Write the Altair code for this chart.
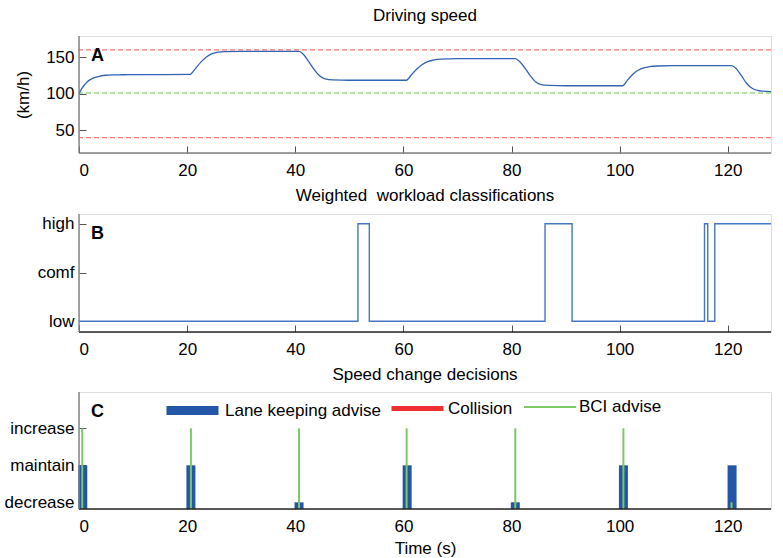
import altair as alt
import pandas as pd

FONT = "Liberation Sans"

# ---------------- data ----------------
X_TICKS = [0, 20, 40, 60, 80, 100, 120]

# Panel A: driving speed (km/h)
SPEED_T = [0, 0.5, 1, 1.5, 2, 3, 4, 5, 6, 8, 12, 20.6,
           20.7, 21.5, 22.5, 23.5, 24.5, 25.5, 27, 30, 40.6,
           40.7, 41.5, 42.5, 43.5, 44.5, 45.5, 47, 50, 60.6,
           60.7, 61.5, 62.5, 63.5, 64.5, 65.5, 67, 70, 80.6,
           80.7, 81.5, 82.5, 83.5, 84.5, 85.5, 87, 90, 100.6,
           100.7, 101.5, 102.5, 103.5, 104.5, 105.5, 107, 110, 120.6,
           120.7, 121.5, 122.5, 123.5, 124.5, 125.5, 126.5, 128]
SPEED_V = [100, 107, 112, 116, 119, 122.5, 124.3, 125.3, 125.8, 126, 126.2, 126.5,
           127, 134, 143, 150, 154.5, 156.5, 157.5, 158, 158,
           158, 154, 144, 133, 124.5, 120.5, 119, 118.5, 118.5,
           119, 126, 134, 140, 144, 146, 147.5, 148, 148,
           148, 144, 135, 124.5, 116, 112.5, 111.5, 111, 111,
           111.5, 119, 127, 132.5, 135.5, 137, 138, 138.5, 138.5,
           138.5, 135, 125, 114, 107.5, 104.5, 103.5, 103]
SPEED_RED_LIMITS = [160, 40]
SPEED_GREEN_LEVEL = [101]
SPEED_TICKS = [50, 100, 150]

# Panel B: weighted workload classification (0 low, 1 comf, 2 high)
WL_T = [0, 51.6, 53.7, 86.2, 91.2, 115.7, 116.3, 117.6, 128]
WL_V = [0, 2, 0, 2, 0, 2, 0, 2, 2]
WL_NAMES = ["low", "comf", "high"]

# Panel C: speed change decisions (1 decrease, 2 maintain, 3 increase)
DEC_NAMES = ["decrease", "maintain", "increase"]
LK_T = [0.7, 20.7, 40.7, 60.7, 80.7, 100.7, 120.8]
LK_V = [2, 2, 1, 2, 1, 2, 2]
BCI_T = [0.6, 20.7, 40.7, 60.6, 80.7, 100.7, 120.7]
BCI_V = [3, 3, 3, 3, 3, 3, 1]
COLL_T = []
COLL_V = []
SERIES = ["Lane keeping advise", "Collision", "BCI advise"]
SERIES_COLORS = ["#2356a6", "#ee3030", "#7cc864"]
SERIES_WIDTHS = [9, 5, 2]

# ---------------- layout constants ----------------
W = 692
X_DOMAIN = [0, 128]
A_DOMAIN = [19, 179]
B_DOMAIN = [-0.22, 2.2]
C_DOMAIN = [0.82, 3.98]
AX_GRAY = "#808080"
AX_DARK = "#262626"
FS = 17


def xscale():
    return alt.Scale(domain=X_DOMAIN, nice=False, zero=False)


def x_axis(title=None):
    return alt.Axis(values=X_TICKS, offset=-7, tickSize=7, tickColor="#555555", tickWidth=1,
                    domain=False, grid=False, labelPadding=9, labelFontSize=FS, labelFont=FONT,
                    labelColor="black", title=title, titleFontSize=FS, titleFont=FONT,
                    titleFontWeight="normal", titleColor="black", titlePadding=6)


def y_axis(values, title=None, label_expr=None):
    kw = dict(values=values, offset=-7, tickSize=7, tickColor="#555555", tickWidth=1,
              domain=False, grid=False, labelPadding=5, labelFontSize=FS, labelFont=FONT,
              labelColor="black", title=title, titleFontSize=FS, titleFont=FONT,
              titleFontWeight="normal", titleColor="black", titlePadding=13)
    if label_expr:
        kw["labelExpr"] = label_expr
    return alt.Axis(**kw)


def frame_lines(ydom, bottom_color):
    d = pd.DataFrame({"z": [0]})
    bottom = alt.Chart(d).mark_rule(color=bottom_color, strokeWidth=1.4).encode(
        y=alt.Y(datum=ydom[0], scale=alt.Scale(domain=ydom, nice=False, zero=False)))
    left = alt.Chart(d).mark_rule(color=AX_GRAY, strokeWidth=1.4).encode(
        x=alt.X(datum=X_DOMAIN[0], scale=xscale()))
    return [bottom, left]


def panel_letter(letter):
    d = pd.DataFrame({"lbl": [letter]})
    return alt.Chart(d).mark_text(fontWeight="bold", fontSize=18, font=FONT, align="left",
                                  baseline="alphabetic", color="black").encode(
        x=alt.value(12), y=alt.value(25), text="lbl:N")


def title(text, offset=10):
    return alt.TitleParams(text, fontSize=FS, fontWeight="normal", font=FONT, frame="group",
                           anchor="middle", color="black", offset=offset)


# ---------------- panel A ----------------
speed_df = pd.DataFrame({"t": SPEED_T, "v": SPEED_V})
ascale = alt.Scale(domain=A_DOMAIN, nice=False, zero=False)
red_rules = alt.Chart(pd.DataFrame({"v": SPEED_RED_LIMITS})).mark_rule(
    color="#ff7070", strokeDash=[5, 3], strokeWidth=1.3).encode(y=alt.Y("v:Q", scale=ascale))
green_rule = alt.Chart(pd.DataFrame({"v": SPEED_GREEN_LEVEL})).mark_rule(
    color="#9ad88a", strokeDash=[5, 3], strokeWidth=1.5).encode(y=alt.Y("v:Q", scale=ascale))
speed_line = alt.Chart(speed_df).mark_line(interpolate="monotone", color="#3263b4",
                                            strokeWidth=1.3).encode(
    x=alt.X("t:Q", scale=xscale(), axis=x_axis()),
    y=alt.Y("v:Q", scale=ascale, axis=y_axis(SPEED_TICKS, title="(km/h)")))
panelA = alt.layer(red_rules, green_rule, speed_line, *frame_lines(A_DOMAIN, AX_GRAY),
                   panel_letter("A")).properties(width=W, height=117, title=title("Driving speed"))

# ---------------- panel B ----------------
wl_df = pd.DataFrame({"t": WL_T, "v": WL_V})
bscale = alt.Scale(domain=B_DOMAIN, nice=False, zero=False)
wl_expr = "[" + ",".join("'%s'" % n for n in WL_NAMES) + "][datum.value]"
wl_line = alt.Chart(wl_df).mark_line(interpolate="step-after", color="#4676c4",
                                     strokeWidth=1.4).encode(
    x=alt.X("t:Q", scale=xscale(), axis=x_axis()),
    y=alt.Y("v:Q", scale=bscale, axis=y_axis([0, 1, 2], label_expr=wl_expr)))
panelB = alt.layer(wl_line, *frame_lines(B_DOMAIN, AX_DARK), panel_letter("B")).properties(
    width=W, height=118, title=title("Weighted\u00a0 workload classifications", offset=8))

# ---------------- panel C ----------------
cscale = alt.Scale(domain=C_DOMAIN, nice=False, zero=False)
dec_expr = "[" + ",".join("'%s'" % n for n in DEC_NAMES) + "][datum.value - 1]"
C_XAXIS = x_axis(title="Time (s)")
C_YAXIS = y_axis([1, 2, 3], label_expr=dec_expr)
LEG_X = [83, 310, 444]


def series_layer(ts, vs, idx):
    df = pd.DataFrame({"t": pd.Series(ts, dtype=float), "v": pd.Series(vs, dtype=float),
                       "series": pd.Series([SERIES[idx]] * len(ts), dtype=object)})
    legend = alt.Legend(orient="none", legendX=LEG_X[idx], legendY=-12, direction="horizontal",
                        symbolType="stroke", symbolSize=2704,
                        symbolStrokeWidth=SERIES_WIDTHS[idx], labelFontSize=FS, labelFont=FONT,
                        labelColor="black", labelOffset=2, title=None, padding=0)
    return alt.Chart(df).mark_rule(strokeWidth=SERIES_WIDTHS[idx]).encode(
        x=alt.X("t:Q", scale=xscale(), axis=C_XAXIS),
        y=alt.Y("v:Q", scale=cscale, axis=C_YAXIS),
        y2=alt.Y2(datum=C_DOMAIN[0]),
        color=alt.Color("series:N", scale=alt.Scale(domain=[SERIES[idx]],
                                                    range=[SERIES_COLORS[idx]]),
                        legend=legend))


lk_layer = series_layer(LK_T, LK_V, 0)
coll_layer = series_layer(COLL_T, COLL_V, 1)
bci_layer = series_layer(BCI_T, BCI_V, 2)
panelC = alt.layer(lk_layer, coll_layer, bci_layer, *frame_lines(C_DOMAIN, AX_DARK),
                   panel_letter("C")).resolve_scale(color="independent").properties(
    width=W, height=117, title=title("Speed change decisions", offset=-4))

chart = alt.vconcat(panelA, panelB, panelC, spacing=7).properties(
    padding={"left": 3, "top": 6, "right": 5, "bottom": 2}
).configure_view(stroke=None).configure(font=FONT, background="white")

chart.save("out.html", embed_options={"renderer": "svg", "actions": False})
